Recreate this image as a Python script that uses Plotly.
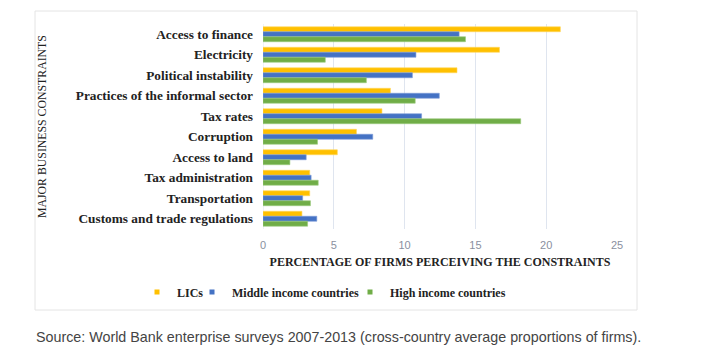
import plotly.graph_objects as go

categories = ["Access to finance", "Electricity", "Political instability",
              "Practices of the informal sector", "Tax rates", "Corruption",
              "Access to land", "Tax administration", "Transportation",
              "Customs and trade regulations"]
lics = [21.0, 16.7, 13.7, 9.0, 8.4, 6.6, 5.25, 3.3, 3.3, 2.75]
middle = [13.85, 10.8, 10.55, 12.45, 11.2, 7.75, 3.05, 3.4, 2.8, 3.8]
high = [14.3, 4.4, 7.3, 10.75, 18.2, 3.85, 1.9, 3.9, 3.35, 3.15]
x_ticks = [0, 5, 10, 15, 20, 25]
series_names = ["LICs", "Middle income countries", "High income countries"]

W, H = 711, 351
L, R, T, B = 263, 617, 24, 229
pw, ph = R - L, B - T

def px(x):
    return (x - L) / pw

def py(y):
    return (B - y) / ph

serif = "Liberation Serif"
colors = ["#FFC000", "#4472C4", "#70AD47"]
edges = ["#FFD75E", "#7C9BD6", "#9CCB7E"]
legend_ids = ["legend", "legend2", "legend3"]
legend_text_x = [177, 232, 390]

fig = go.Figure()
for name, vals, col, edge in zip(series_names, [lics, middle, high], colors, edges):
    fig.add_trace(go.Bar(y=categories, x=vals, name=name, orientation="h",
                         showlegend=False,
                         marker=dict(color=col, line=dict(color=edge, width=0.6))))
for name, col, lid in zip(series_names, colors, legend_ids):
    fig.add_trace(go.Scatter(x=[None], y=[None], mode="markers", name=name,
                             legend=lid, showlegend=True,
                             marker=dict(symbol="square", size=5, color=col)))

legend_font = dict(family=serif, size=12, color="#222", weight="bold")
legends = {}
for lid, tx in zip(legend_ids, legend_text_x):
    legends[lid] = dict(orientation="h", x=px(tx - 40), y=py(292), xanchor="left",
                        yanchor="middle", font=legend_font, itemwidth=30,
                        bgcolor="rgba(0,0,0,0)", borderwidth=0)

fig.update_layout(
    width=W, height=H, margin=dict(l=L, r=W - R, t=T, b=H - B),
    paper_bgcolor="white", plot_bgcolor="white",
    barmode="group", bargap=0.27, bargroupgap=0,
    xaxis=dict(range=[0, 25], tickvals=x_ticks, showgrid=True, gridcolor="#dfe5ef",
               gridwidth=1, zeroline=False, showline=False, ticks="",
               ticklabelstandoff=8,
               tickfont=dict(family="Liberation Sans", size=11, color="#8a90a0"),
               title=dict(text="PERCENTAGE OF FIRMS PERCEIVING THE CONSTRAINTS",
                          font=dict(family=serif, size=12, color="#222", weight="bold"),
                          standoff=7)),
    yaxis=dict(autorange="reversed", showgrid=False, ticks="", showline=False,
               tickfont=dict(family=serif, size=13.3, color="#222", weight="bold"),
               ticklabelstandoff=9),
    shapes=[dict(type="rect", xref="paper", yref="paper",
                 x0=px(35), x1=px(637), y0=py(310), y1=py(11),
                 line=dict(color="#e4e4e4", width=1), fillcolor="rgba(0,0,0,0)", layer="below"),
            dict(type="line", xref="x", yref="paper", x0=0, x1=0, y0=0, y1=1,
                 line=dict(color="#dfe5ef", width=1), layer="below")],
    annotations=[dict(text="MAJOR BUSINESS CONSTRAINTS", textangle=-90,
                      xref="paper", yref="paper", x=px(42), y=py(127),
                      xanchor="center", yanchor="middle", showarrow=False,
                      font=dict(family=serif, size=11.8, color="#222")),
                 dict(text="Source: World Bank enterprise surveys 2007-2013 (cross-country average proportions of firms).",
                      xref="paper", yref="paper", x=px(34), y=py(337),
                      xanchor="left", yanchor="middle", showarrow=False,
                      font=dict(family="Liberation Sans", size=14.3, color="#444"))],
)
fig.update_layout(**legends)
fig.write_html("out.html")
